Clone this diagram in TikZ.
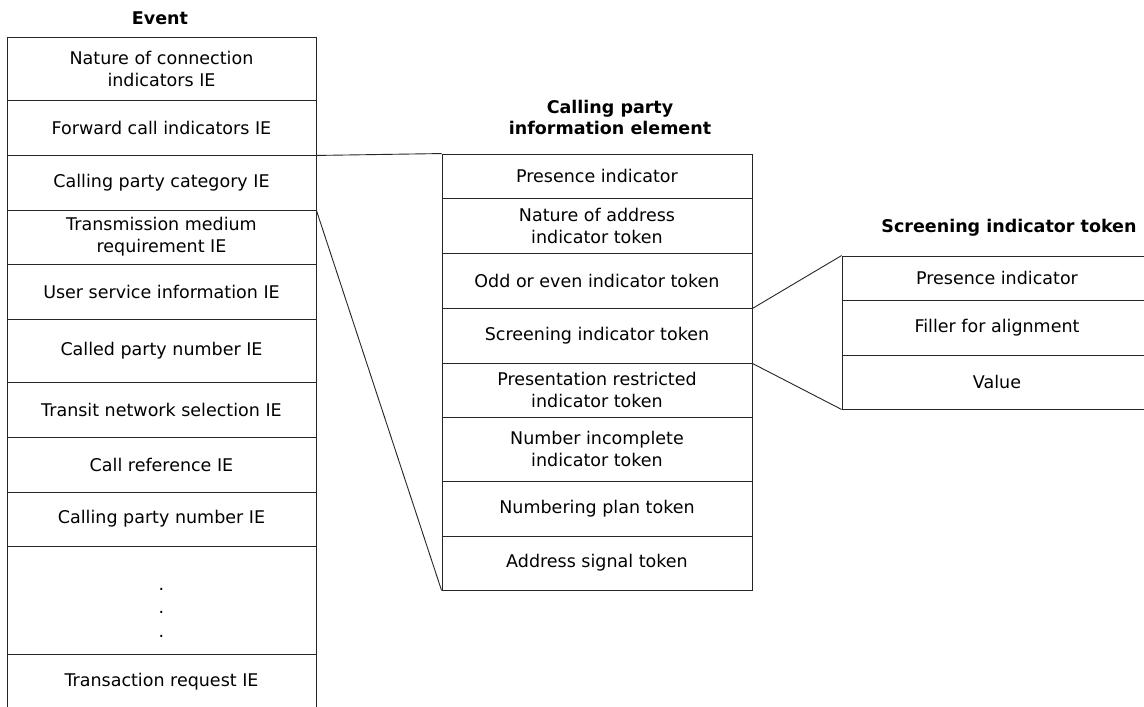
\documentclass[tikz,border=0pt]{standalone}
\usepackage{fontspec}
\setmainfont{DejaVu Sans}
\usetikzlibrary{positioning}

\begin{document}
\begin{tikzpicture}[x=1pt,y=-1pt,
  cell/.style={draw=black!85,line width=0.9pt,inner sep=0pt,align=center,
    minimum width=309pt,font=\fontsize{17.5}{22}\selectfont},
  midcell/.style={cell,minimum width=310pt},
  title/.style={align=center,inner sep=0pt,font=\fontsize{17.5}{21.5}\selectfont\bfseries},
  link/.style={draw=black!85,line width=0.9pt}]
\useasboundingbox (0,0) rectangle (1144,707);
\fill[white] (0,0) rectangle (1144,707);
\node[title] (eventtitle) at (160,18) {Event};
\node[cell,minimum height=63pt] (nci) at (161.5,68.5) {Nature of connection\\indicators IE};
\node[cell,minimum height=55pt] (fci) at (161.5,127.5) {Forward call indicators IE};
\node[cell,minimum height=55pt] (cpc) at (161.5,182.5) {Calling party category IE};
\node[cell,minimum height=54pt] (tmr) at (161.5,237) {Transmission medium\\requirement IE};
\node[cell,minimum height=55pt] (usi) at (161.5,291.5) {User service information IE};
\node[cell,minimum height=63pt] (cdpn) at (161.5,350.5) {Called party number IE};
\node[cell,minimum height=55pt] (tns) at (161.5,409.5) {Transit network selection IE};
\node[cell,minimum height=55pt] (cref) at (161.5,464.5) {Call reference IE};
\node[cell,minimum height=54pt] (cgpn) at (161.5,519) {Calling party number IE};
\node[cell,minimum height=108pt] (more) at (161.5,600) {\rule{0pt}{27pt}.\\[1.5pt].\\[1.5pt].};
\node[cell,minimum height=56pt] (treq) at (161.5,682) {Transaction request IE};

\node[title] (cptitle) at (610,117.5) {Calling party\\information element};
\node[midcell,minimum height=44pt] (pres) at (597,176) {Presence indicator};
\node[midcell,minimum height=55pt] (noa) at (597,225.5) {Nature of address\\indicator token};
\node[midcell,minimum height=55pt] (oe) at (597,280.5) {Odd or even indicator token};
\node[midcell,minimum height=55pt] (scr) at (597,335.5) {Screening indicator token};
\node[midcell,minimum height=54pt] (pri) at (597,390) {Presentation restricted\\indicator token};
\node[midcell,minimum height=64pt] (ninc) at (597,449) {Number incomplete\\indicator token};
\node[midcell,minimum height=55pt] (nplan) at (597,508.5) {Numbering plan token};
\node[midcell,minimum height=54pt] (asig) at (597,563) {Address signal token};

\node[title] (sititle) at (1009,228) {Screening indicator token};
\node[midcell,minimum height=44pt] (spres) at (997,278) {Presence indicator};
\node[midcell,minimum height=55pt] (filler) at (997,327.5) {Filler for alignment};
\node[midcell,minimum height=54pt] (value) at (997,382) {Value};

\draw[link] (fci.south east) -- (pres.north west);
\draw[link] (cpc.south east) -- (asig.south west);
\draw[link] (oe.south east) -- (spres.north west);
\draw[link] (scr.south east) -- (value.south west);
\end{tikzpicture}
\end{document}
